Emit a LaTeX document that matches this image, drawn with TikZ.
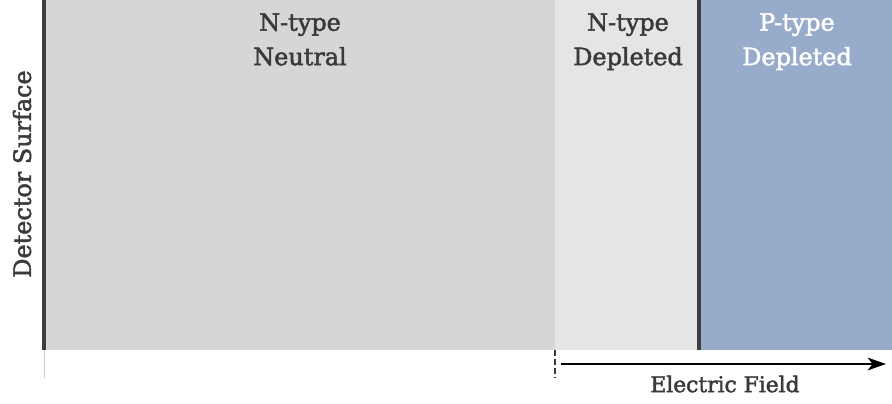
\documentclass[tikz,border=0pt]{standalone}
\usepackage{fontspec}
\setmainfont{DejaVu Serif}
\newfontface\labelfont{DejaVu Serif}[FakeBold=2]
\usepackage{xcolor}
\usetikzlibrary{arrows.meta, positioning}
\definecolor{neutralgray}{RGB}{214,214,214}
\definecolor{depletedgray}{RGB}{229,229,229}
\definecolor{ptypeblue}{RGB}{151,171,203}
\definecolor{labelgray}{RGB}{58,58,58}
\definecolor{edgegray}{RGB}{62,62,62}

\begin{document}
\begin{tikzpicture}[
        x=0.025cm, y=-0.025cm,
        region/.style={draw=none},
        label/.style={anchor=north, inner sep=0pt, align=center, font=\labelfont\fontsize{17}{24.5}\selectfont, text=labelgray},
        boundary/.style={edgegray, line width=2.4pt},
        tick/.style={labelgray, line width=0.8pt},
        arrow/.style={-{Stealth[length=13pt, width=9pt, inset=3.5pt]}, line width=1.8pt, black}
    ]
        \useasboundingbox (0,0) rectangle (892,403);

        % layers
        \fill[region, neutralgray] (44,0) rectangle (555,350);
        \fill[region, depletedgray] (555,0) rectangle (699,350);
        \fill[region, ptypeblue] (699,0) rectangle (892,350);

        \coordinate (surftop) at (44,0);
        \coordinate (surfbot) at (44,350);
        \coordinate (surfend) at (44,378);
        \coordinate (junctop) at (699,0);
        \coordinate (juncbot) at (699,350);
        \coordinate (edgetop) at (555,350);
        \coordinate (edgebot) at (555,378);

        \draw[boundary, line width=3pt] (surftop) -- (surfbot);
        \draw[boundary] (junctop) -- (juncbot);
        \draw[gray!40, line width=0.5pt] (surfbot) -- (surfend);
        \draw[tick, dashed, dash pattern=on 4pt off 2.5pt] (edgetop) -- (edgebot);

        \node[label] (neutral) at (300,13) {N-type\\Neutral};
        \node[label] (ndepl) at (628,13) {N-type\\Depleted};
        \node[label, text=white] (pdepl) at (797,13) {P-type\\Depleted};
        \node[label, anchor=center, rotate=90] (surface) at (22,174) {Detector Surface};

        % field direction
        \coordinate (fieldstart) at (561,364);
        \coordinate (fieldend) at (886,364);
        \draw[arrow] (fieldstart) -- (fieldend);
        \node[label, anchor=center, font=\labelfont\fontsize{15.5}{20}\selectfont] (field) at (725,384) {Electric Field};
    \end{tikzpicture}
\end{document}
